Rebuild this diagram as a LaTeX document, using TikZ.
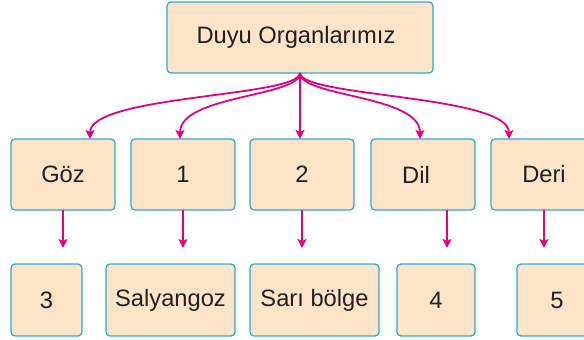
\documentclass[tikz,border=0pt]{standalone}
\usepackage{fontspec}
\setmainfont{Liberation Sans}
\usetikzlibrary{arrows.meta}
\definecolor{boxfill}{RGB}{253,228,200}
\definecolor{boxline}{RGB}{41,171,226}
\definecolor{arrcol}{RGB}{230,0,126}
\definecolor{txt}{RGB}{35,31,32}
\begin{document}
\begin{tikzpicture}[x=1pt,y=-1pt,
  box/.style={draw=boxline, fill=boxfill, line width=1.3pt, rounded corners=4pt,
    inner sep=0pt, outer sep=0pt, text=txt,
    font=\fontsize{23.7}{28}\selectfont},
  arr/.style={draw=arrcol, line width=1.8pt,
    -{Stealth[length=9pt,width=9pt,inset=2pt]}}]
\useasboundingbox (0,0) rectangle (584,340);
\clip (0,0) rectangle (584,340);
% top
\node[box, minimum width=266pt, minimum height=71pt] (top) at (300,37.5) {Duyu Organlarımız\hspace*{8pt}};
% row 2
\node[box, minimum width=104pt, minimum height=71pt] (goz) at (63,174.5) {Göz};
\node[box, minimum width=104pt, minimum height=71pt] (b1) at (183,174.5) {1};
\node[box, minimum width=104pt, minimum height=71pt] (b2) at (302,174.5) {2};
\node[box, minimum width=104pt, minimum height=71pt] (dil) at (423,174.5) {Dil\hspace*{14pt}};
\node[box, minimum width=106pt, minimum height=71pt] (deri) at (544,174.5) {Deri};
% row 3
\node[box, minimum width=71pt, minimum height=72pt] (c3) at (46.5,300) {3};
\node[box, minimum width=129pt, minimum height=72pt] (sal) at (170.5,300) {Salyangoz};
\node[box, minimum width=129pt, minimum height=72pt] (sari) at (314.5,300) {Sarı bölge};
\node[box, minimum width=78pt, minimum height=72pt] (c4) at (436,300) {4};
\node[box, minimum width=80pt, minimum height=72pt] (c5) at (557,300) {5};
% curved arrows
\draw[arr] (top.south) .. controls ([yshift=-24pt]top.south) and ([xshift=27pt,yshift=44pt]goz.north) .. ([xshift=27pt]goz.north);
\draw[arr] (top.south) .. controls ([yshift=-24pt]top.south) and ([xshift=-3pt,yshift=44pt]b1.north) .. ([xshift=-3pt]b1.north);
\draw[arr] (top.south) -- (top.south |- b2.north);
\draw[arr] (top.south) .. controls ([yshift=-24pt]top.south) and ([xshift=-3pt,yshift=44pt]dil.north) .. ([xshift=-3pt]dil.north);
\draw[arr] (top.south) .. controls ([yshift=-24pt]top.south) and ([xshift=-35pt,yshift=44pt]deri.north) .. ([xshift=-35pt]deri.north);
% vertical arrows
\draw[arr, shorten >=16pt] (goz.south) -- (goz.south |- c3.north);
\draw[arr, shorten >=16pt] (b1.south) -- (b1.south |- sal.north);
\draw[arr, shorten >=16pt] (b2.south) -- (b2.south |- sari.north);
\draw[arr, shorten >=16pt] ([xshift=24pt]dil.south) -- ([xshift=24pt]dil.south |- c4.north);
\draw[arr, shorten >=16pt] (deri.south) -- (deri.south |- c5.north);
\end{tikzpicture}
\end{document}
